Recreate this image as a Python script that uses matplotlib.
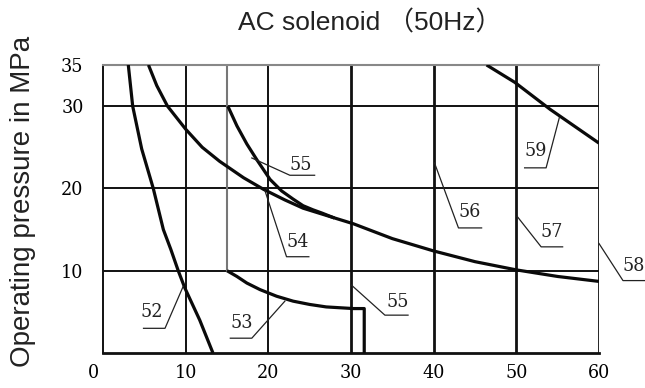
import matplotlib
matplotlib.use("Agg")
import matplotlib.pyplot as plt
import matplotlib.transforms as mtransforms

# ---- data ----
title = "AC solenoid （50Hz）"
ylabel = "Operating pressure in MPa"
x_ticks = [0, 10, 20, 30, 40, 50, 60]
y_ticks = [10, 20, 30, 35]

c52_x = [3.06, 3.59, 4.68, 6.08, 7.3, 8.2, 9.1, 9.9, 11.7, 13.3]
c52_y = [35.0, 30.0, 24.8, 20.0, 15.0, 12.6, 10.0, 7.9, 4.0, 0.0]

c53_x = [15.0, 16.2, 17.4, 19.0, 21.0, 23.0, 25.0, 27.0, 30.3, 31.6, 31.6]
c53_y = [10.0, 9.3, 8.5, 7.7, 6.9, 6.3, 5.9, 5.6, 5.4, 5.4, 0.0]

c55_x = [15.1, 16.2, 17.4, 18.6, 20.2, 21.6, 23.0, 24.2, 25.4, 26.5, 28.0]
c55_y = [30.0, 27.6, 25.4, 23.5, 21.1, 19.7, 18.7, 17.9, 17.4, 17.0, 16.4]

c57_x = [5.5, 6.5, 7.8, 10.0, 12.0, 14.1, 17.0, 19.4, 22.0, 24.2, 27.4, 30.3, 35.0, 40.0, 45.0, 50.0, 55.0, 60.0]
c57_y = [35.0, 32.5, 30.0, 27.2, 25.0, 23.3, 21.3, 19.9, 18.6, 17.6, 16.6, 15.7, 13.9, 12.4, 11.1, 10.1, 9.3, 8.7]

c59_x = [46.4, 49.8, 54.1, 60.0]
c59_y = [35.0, 32.9, 29.6, 25.5]

# x = 15 partial line
v15_x = [15, 15]
v15_y = [10, 35]

# labels: text, label position, leader start, leader bend, underline end
labels = ["52", "53", "54", "55", "55", "56", "57", "58", "59"]
label_pos = [(5.9, 5.0), (16.8, 3.6), (23.6, 13.5), (23.9, 22.8), (35.6, 6.2),
             (44.4, 17.1), (54.3, 14.7), (64.2, 10.6), (52.3, 24.6)]
leader_start = [(9.7, 8.1), (22.0, 6.3), (19.6, 19.7), (18.0, 23.7), (30.0, 8.3),
                (40.1, 23.1), (50.1, 16.6), (60.0, 13.3), (55.2, 28.6)]
leader_bend = [(7.5, 3.0), (18.0, 1.8), (22.2, 11.7), (22.6, 21.6), (34.1, 4.6),
               (43.0, 15.2), (53.0, 12.9), (62.9, 8.8), (53.6, 22.5)]
under_end = [(4.9, 3.0), (15.4, 1.8), (24.9, 11.7), (25.6, 21.6), (36.9, 4.6),
             (45.8, 15.2), (55.6, 12.9), (65.5, 8.8), (51.0, 22.5)]

# ---- drawing ----
fig = plt.figure(figsize=(6.45, 3.88), dpi=100)
ax = fig.add_axes([0.1597, 0.0902, 0.9287 - 0.1597, 0.8325 - 0.0902])
ax.set_xlim(0, 60)
ax.set_ylim(0, 35)

num_font = dict(family=["DejaVu Serif", "DejaVu Sans"], fontstretch="condensed",
                fontsize=14)

# grid
for gx in [10, 20]:
    ax.plot([gx, gx], [0, 35], color="#111111", lw=1.4, zorder=1)
for gx in [30, 40, 50, 60]:
    ax.plot([gx, gx], [0, 35], color="#111111", lw=2.0, zorder=1)
for gy in [10, 20, 30]:
    ax.plot([0, 60], [gy, gy], color="#111111", lw=1.4, zorder=1)
ax.plot(v15_x, v15_y, color="#777777", lw=1.5, zorder=1)

ax.spines["right"].set_visible(False)
ax.spines["top"].set_color("#888888")
ax.spines["top"].set_linewidth(1.5)
ax.spines["left"].set_color("#111111")
ax.spines["left"].set_linewidth(1.4)
ax.spines["bottom"].set_color("#111111")
ax.spines["bottom"].set_linewidth(2.0)

curve_kw = dict(color="#0a0a0a", lw=2.3, solid_capstyle="butt", zorder=3)
ax.plot(c52_x, c52_y, **curve_kw)
ax.plot(c53_x, c53_y, **curve_kw)
ax.plot(c55_x, c55_y, **curve_kw)
ax.plot(c57_x, c57_y, **curve_kw)
ax.plot(c59_x, c59_y, **curve_kw)

for t, p, s, b, e in zip(labels, label_pos, leader_start, leader_bend, under_end):
    ax.plot([s[0], b[0], e[0]], [s[1], b[1], e[1]], color="#222222", lw=0.9,
            clip_on=False, zorder=4)
    ax.text(p[0], p[1], t, ha="center", va="center", color="#222222",
            clip_on=False, **num_font)

ax.tick_params(length=0)
ax.tick_params(axis="x", pad=8)
ax.tick_params(axis="y", pad=14)
ax.set_xticks(x_ticks)
ax.set_yticks(y_ticks)
ax.set_xticklabels([str(v) for v in x_ticks], **num_font)
ax.set_yticklabels([str(v) for v in y_ticks], **num_font)

# the "0" label sits a little left of the axis corner in the reference
zero_lbl = ax.get_xticklabels()[0]
zero_lbl.set_transform(zero_lbl.get_transform() +
                       mtransforms.ScaledTranslation(-0.10, 0, fig.dpi_scale_trans))

fig.text(0.573, 0.942, title, ha="center", va="center", fontsize=19,
         family=["Liberation Sans", "Noto Sans CJK SC"], color="#222222")
fig.text(0.036, 0.482, ylabel, rotation=90, ha="center", va="center",
         fontsize=20, family=["Liberation Sans", "DejaVu Sans"], color="#222222")

fig.savefig("out.png", dpi=100)
